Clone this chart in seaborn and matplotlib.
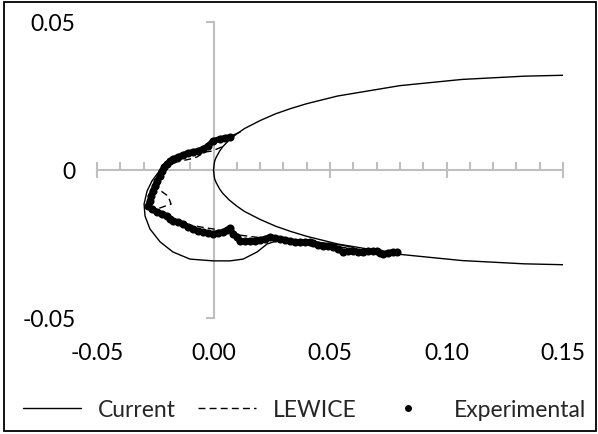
import matplotlib
matplotlib.use("Agg")
import matplotlib.pyplot as plt
import seaborn as sns
import pandas as pd
from matplotlib.ticker import MultipleLocator
from matplotlib.lines import Line2D
from matplotlib.patches import Rectangle

# ---------------- data ----------------
# clean airfoil outline (upper surface from trailing side to leading edge, then lower surface)
airfoil_x = [0.15, 0.1334, 0.1067, 0.0800, 0.0533, 0.0400, 0.0333, 0.0267, 0.0200, 0.0133, 0.0100,
             0.0067, 0.0040, 0.0027, 0.0011, 0.0005, 0.0003, 0.0,
             0.0003, 0.0005, 0.0011, 0.0027, 0.0040, 0.0067, 0.0100, 0.0133, 0.0200, 0.0267,
             0.0333, 0.0400, 0.0533, 0.0800, 0.1067, 0.1334, 0.15]
airfoil_y = [0.0320, 0.0317, 0.0306, 0.0285, 0.0250, 0.0224, 0.0208, 0.0190, 0.0167, 0.0140, 0.0122,
             0.0101, 0.0079, 0.0065, 0.0042, 0.0030, 0.0021, 0.0,
             -0.0021, -0.0030, -0.0042, -0.0065, -0.0079, -0.0101, -0.0122, -0.0140, -0.0167, -0.0190,
             -0.0208, -0.0224, -0.0250, -0.0285, -0.0306, -0.0317, -0.0320]

# "Current" predicted ice shape
current_x = [0.0114, 0.0084, 0.0062, 0.0019, -0.0015, -0.0045, -0.0088, -0.0144, -0.0195, -0.0229,
             -0.0264, -0.0285, -0.0298, -0.0294, -0.0273, -0.0229, -0.0174, -0.0101, -0.0002, 0.0071,
             0.0127, 0.0187, 0.0230, 0.0285, 0.0371, 0.0457, 0.0543, 0.0600]
current_y = [0.0128, 0.0118, 0.0111, 0.0108, 0.0095, 0.0074, 0.0064, 0.0051, 0.0030, 0.0000,
             -0.0037, -0.0071, -0.0115, -0.0155, -0.0199, -0.0243, -0.0277, -0.0301, -0.0307, -0.0307,
             -0.0301, -0.0277, -0.0250, -0.0236, -0.0237, -0.0245, -0.0253, -0.0261]

# LEWICE ice shape
lewice_x = [0.0036, -0.0006, -0.0036, -0.0071, -0.0101, -0.0157, -0.0200, -0.0221, -0.0229, -0.0238,
            -0.0195, -0.0182, -0.0229, -0.0273, -0.0242, -0.0174, -0.0101, -0.0028, -0.0002, 0.0114,
            0.0242, 0.0371, 0.0500, 0.0586, 0.0672]
lewice_y = [0.0078, 0.0064, 0.0061, 0.0044, 0.0037, 0.0027, 0.0014, 0.0003, -0.0030, -0.0064,
            -0.0088, -0.0115, -0.0128, -0.0132, -0.0145, -0.0169, -0.0186, -0.0196, -0.0199, -0.0220,
            -0.0233, -0.0243, -0.0257, -0.0264, -0.0271]

# Experimental ice tracing
exp_x = [0.0071, 0.0049, 0.0028, -0.0002, -0.0024, -0.0045, -0.0067, -0.0088, -0.0109, -0.0131,
         -0.0152, -0.0174, -0.0187, -0.0200, -0.0212, -0.0221, -0.0229, -0.0242, -0.0251, -0.0260,
         -0.0268, -0.0273, -0.0281, -0.0264, -0.0242, -0.0221, -0.0200, -0.0187, -0.0174, -0.0152,
         -0.0131, -0.0109, -0.0088, -0.0067, -0.0045, -0.0024, -0.0002, 0.0019, 0.0041, 0.0058,
         0.0071, 0.0084, 0.0101, 0.0114, 0.0135, 0.0157, 0.0178, 0.0200, 0.0221, 0.0242,
         0.0264, 0.0285, 0.0307, 0.0328, 0.0350, 0.0371, 0.0393, 0.0414, 0.0427, 0.0449,
         0.0470, 0.0491, 0.0513, 0.0534, 0.0556, 0.0577, 0.0599, 0.0620, 0.0642, 0.0663,
         0.0685, 0.0702, 0.0715, 0.0727, 0.0749, 0.0770, 0.0788]
exp_y = [0.0111, 0.0108, 0.0105, 0.0098, 0.0081, 0.0071, 0.0064, 0.0061, 0.0057, 0.0051,
         0.0044, 0.0037, 0.0030, 0.0020, 0.0010, -0.0003, -0.0020, -0.0037, -0.0054, -0.0071,
         -0.0088, -0.0105, -0.0122, -0.0132, -0.0142, -0.0149, -0.0155, -0.0166, -0.0172, -0.0176,
         -0.0182, -0.0193, -0.0199, -0.0206, -0.0209, -0.0213, -0.0216, -0.0213, -0.0209, -0.0203,
         -0.0196, -0.0216, -0.0226, -0.0240, -0.0240, -0.0240, -0.0240, -0.0236, -0.0233, -0.0226,
         -0.0230, -0.0233, -0.0236, -0.0240, -0.0243, -0.0243, -0.0243, -0.0243, -0.0247, -0.0253,
         -0.0257, -0.0257, -0.0260, -0.0267, -0.0277, -0.0274, -0.0274, -0.0277, -0.0277, -0.0274,
         -0.0274, -0.0274, -0.0280, -0.0284, -0.0280, -0.0277, -0.0277]

x_ticks = [-0.05, 0.0, 0.05, 0.10, 0.15]
x_tick_labels = ["-0.05", "0.00", "0.05", "0.10", "0.15"]
y_ticks = [-0.05, 0.0, 0.05]
y_tick_labels = ["-0.05", "0", "0.05"]

# ---------------- style ----------------
sns.set_theme(style="white")
plt.rcParams["font.family"] = ["Lato", "DejaVu Sans"]
FS = 16.5
FSPX = FS * 100 / 72
GREY = "#BFBFBF"

fig = plt.figure(figsize=(5.98, 4.35), dpi=100)
ax = fig.add_axes([97 / 598, 1 - 319 / 435, 466 / 598, 296 / 435])

df_air = pd.DataFrame({"x": airfoil_x, "y": airfoil_y})
df_cur = pd.DataFrame({"x": current_x, "y": current_y})
df_lew = pd.DataFrame({"x": lewice_x, "y": lewice_y})
df_exp = pd.DataFrame({"x": exp_x, "y": exp_y})

sns.lineplot(data=df_air, x="x", y="y", sort=False, estimator=None, color="black", lw=1.0, ax=ax)
sns.lineplot(data=df_cur, x="x", y="y", sort=False, estimator=None, color="black", lw=1.0, ax=ax)
sns.lineplot(data=df_lew, x="x", y="y", sort=False, estimator=None, color="black", lw=1.0, ax=ax)
ax.lines[-1].set_dashes((5, 3))
sns.lineplot(data=df_exp, x="x", y="y", sort=False, estimator=None, color="black", lw=4.2, ax=ax)
sns.scatterplot(data=df_exp, x="x", y="y", color="black", s=34, edgecolor="black",
                linewidth=0, ax=ax, zorder=5)

ax.set_xlim(-0.05, 0.15)
ax.set_ylim(-0.05, 0.05)
ax.set_xlabel("")
ax.set_ylabel("")

# axis lines crossing at origin
for s in ["top", "right"]:
    ax.spines[s].set_visible(False)
ax.spines["left"].set_position(("data", 0))
ax.spines["bottom"].set_position(("data", 0))
for s in ["left", "bottom"]:
    ax.spines[s].set_color(GREY)
    ax.spines[s].set_linewidth(1.5)
    ax.spines[s].set_zorder(0.5)
ax.set_axisbelow(True)

ax.set_xticks(x_ticks)
ax.xaxis.set_minor_locator(MultipleLocator(0.01))
ax.set_yticks(y_ticks)
ax.tick_params(axis="x", which="major", direction="inout", length=11, width=1.5, color=GREY,
               labelbottom=False, bottom=True)
ax.tick_params(axis="x", which="minor", direction="in", length=5.8, width=1.5, color=GREY, bottom=True)
ax.tick_params(axis="y", which="major", direction="out", length=5.8, width=1.5, color=GREY,
               labelleft=False, left=True)

# tick labels at the outer edges (Excel "low" position)
secx = ax.secondary_xaxis("bottom")
secx.set_xticks(x_ticks, labels=x_tick_labels)
secx.tick_params(length=0, pad=17, labelsize=FS, labelcolor="black")
secx.spines["bottom"].set_visible(False)

secy = ax.secondary_yaxis("left")
secy.set_yticks(y_ticks, labels=y_tick_labels)
secy.tick_params(length=0, pad=15.5, labelsize=FS, labelcolor="black")
secy.spines["left"].set_visible(False)

# legend
h_cur = Line2D([], [], color="black", lw=1.0)
h_lew = Line2D([], [], color="black", lw=1.0, dashes=(5, 3))
h_exp = Line2D([], [], color="black", lw=0, marker="o", markersize=4)
fig.legend([h_cur, h_lew, h_exp], ["Current", "LEWICE", "Experimental"], loc="center left",
           bbox_to_anchor=(23 / 598, 1 - 411 / 435), ncol=3, frameon=False,
           fontsize=FS, handlelength=58 / FSPX, handletextpad=17 / FSPX,
           columnspacing=22 / FSPX, borderpad=0, borderaxespad=0)

# chart border
fig.patches.append(Rectangle((4 / 598, 3 / 435), 592 / 598, 429 / 435, transform=fig.transFigure,
                             fill=False, edgecolor="black", lw=1.3))

fig.savefig("out.png", dpi=100)
